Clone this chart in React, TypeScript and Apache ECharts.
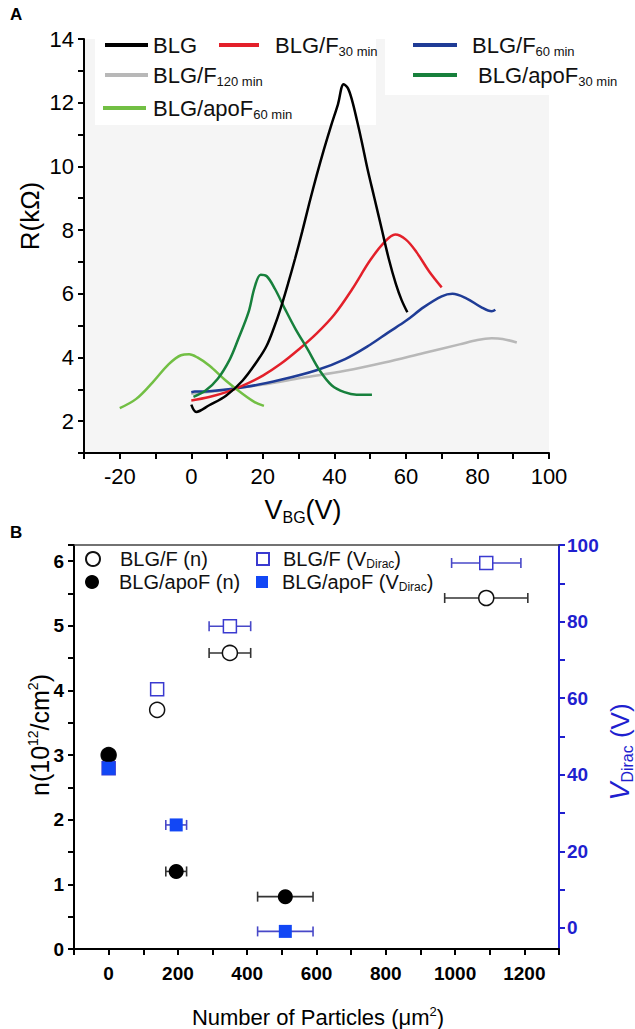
import React, { useEffect, useRef } from 'react';
import * as echarts from 'echarts';

// ---------- Panel A data: R (kOhm) vs V_BG (V) ----------
const xTicksA = [-20, 0, 20, 40, 60, 80, 100];
const blg = [[0, 2.52], [1.4, 2.29], [5, 2.5], [9.7, 2.8], [14.3, 3.27], [18.8, 3.95], [21, 4.35], [23, 4.9], [25, 5.55], [27, 6.3], [29, 7.1], [31, 7.95], [33, 8.85], [35, 9.7], [37, 10.5], [39, 11.25], [41, 11.95], [42.6, 12.58], [43.8, 12.45], [45, 12.05], [46.3, 11.45], [47.7, 10.75], [49.2, 9.95], [51.2, 9.0], [53.2, 8.05], [55.2, 7.1], [57.2, 6.3], [58.8, 5.8], [60.4, 5.42]];
const blgF30 = [[0, 2.65], [5, 2.76], [10, 2.92], [15, 3.15], [20, 3.43], [25, 3.8], [30, 4.25], [35, 4.75], [40, 5.35], [45, 6.15], [50, 7.05], [54, 7.62], [57, 7.86], [60, 7.7], [63, 7.3], [66.5, 6.7], [70, 6.2]];
const blgF60 = [[0, 2.91], [1, 2.93], [5, 2.94], [15, 3.07], [25, 3.3], [35, 3.6], [43, 3.95], [50, 4.4], [55, 4.78], [60, 5.15], [65, 5.58], [70, 5.92], [73, 6.0], [77, 5.85], [81, 5.58], [84, 5.45], [85, 5.5]];
const blgF120 = [[0, 2.86], [8.5, 2.96], [20, 3.15], [31, 3.36], [43, 3.58], [54, 3.84], [65, 4.14], [75, 4.41], [80, 4.55], [84, 4.6], [87, 4.58], [91, 4.47]];
const blgApoF30 = [[0.6, 2.76], [4, 2.96], [7.4, 3.33], [10.8, 3.95], [13.1, 4.57], [16, 5.42], [17.7, 6.2], [19.4, 6.6], [21.1, 6.55], [23.4, 6.15], [26.2, 5.52], [29.1, 4.9], [32.5, 4.26], [35.9, 3.59], [39.3, 3.12], [42.8, 2.91], [46.2, 2.83], [50.5, 2.83]];
const blgApoF60 = [[-20, 2.41], [-15.4, 2.7], [-10.8, 3.22], [-6.3, 3.79], [-2.9, 4.07], [-0.6, 4.1], [1.7, 4.0], [5.1, 3.74], [9.7, 3.27], [14.3, 2.86], [17.7, 2.6], [20.3, 2.48]];

// ---------- Panel B data: [particles, value, x-error] ----------
const blgFn = [[0, 3.0, 0], [140, 3.7, 8], [350, 4.58, 60], [1090, 5.43, 120]];
const blgApoFn = [[0, 3.0, 0], [195, 1.2, 30], [510, 0.81, 80]];
const blgFV = [[0, 41.7, 0], [140, 62.3, 15], [350, 78.8, 60], [1090, 95.3, 100]];
const blgApoFV = [[0, 41.7, 0], [195, 26.9, 30], [510, -0.9, 80]];
const rightLabels = [0, 20, 40, 60, 80, 100];
const rightTicks = [0, 10, 20, 30, 40, 50, 60, 70, 80, 90, 100];

const FONT = 'Liberation Sans, Arial, Helvetica, sans-serif';
const BLUE_AX = '#1f1fcf';

function errSeries(data: number[][], xi: number, yi: number, color: string) {
  return {
    type: 'custom',
    xAxisIndex: xi,
    yAxisIndex: yi,
    silent: true,
    z: 1,
    data: data.map((d) => [d[0], d[1], d[2]]),
    renderItem: (params: any, api: any) => {
      const x = api.value(0), y = api.value(1), e = api.value(2);
      if (!e) return { type: 'group', children: [] };
      const p1 = api.coord([x - e, y]);
      const p2 = api.coord([x + e, y]);
      const c = 5;
      const st = { stroke: color, lineWidth: 1.6 };
      return {
        type: 'group',
        children: [
          { type: 'line', shape: { x1: p1[0], y1: p1[1], x2: p2[0], y2: p2[1] }, style: st },
          { type: 'line', shape: { x1: p1[0], y1: p1[1] - c, x2: p1[0], y2: p1[1] + c }, style: st },
          { type: 'line', shape: { x1: p2[0], y1: p2[1] - c, x2: p2[0], y2: p2[1] + c }, style: st },
        ],
      };
    },
  };
}

const subRichA = {
  m: { fontSize: 22, lineHeight: 26, fontFamily: FONT, color: '#111' },
  s: { fontSize: 13, lineHeight: 8, verticalAlign: 'bottom', fontFamily: FONT, color: '#111' },
};
const fmtA = (n: string) => {
  const m = n.match(/^(.*?)(\d+ min)$/);
  return m ? `{m|${m[1]}}{s|${m[2]}}` : `{m|${n}}`;
};
function legA(name: string, left: number, cy: number, w: number, pad: number) {
  return {
    data: [name], left, top: cy - 13, padding: 0, selectedMode: false,
    icon: 'rect', itemWidth: w, itemHeight: 4,
    formatter: fmtA,
    textStyle: { rich: subRichA, padding: [0, 0, 0, pad] },
  };
}
const subRichB = {
  m: { fontSize: 20, lineHeight: 22, fontFamily: FONT, color: '#111' },
  s: { fontSize: 12, lineHeight: 6, verticalAlign: 'bottom', fontFamily: FONT, color: '#111' },
};
const fmtB = (n: string) => {
  const m = n.match(/^(.*)VDirac\)$/);
  return m ? `{m|${m[1]}V}{s|Dirac}{m|)}` : `{m|${n}}`;
};
function legB(name: string, left: number, cy: number, w: number, h: number, pad: number) {
  return {
    data: [name], left, top: cy - 11, padding: 0, selectedMode: false,
    itemWidth: w, itemHeight: h,
    formatter: fmtB,
    textStyle: { rich: subRichB, padding: [0, 0, 0, pad] },
  };
}

function lineSeries(name: string, data: number[][], color: string) {
  return {
    name, type: 'line', xAxisIndex: 0, yAxisIndex: 0, data, smooth: 0.35,
    showSymbol: false, symbol: 'none', z: 3,
    lineStyle: { color, width: 2.5 }, itemStyle: { color },
  };
}

const option: any = {
  animation: false,
  backgroundColor: '#fff',
  textStyle: { fontFamily: FONT },
  grid: [
    { left: 84, top: 39, width: 465, height: 414, show: true, backgroundColor: '#f5f5f5', borderWidth: 0 },
    { left: 74, top: 545, width: 485, height: 404 },
  ],
  xAxis: [
    {
      type: 'value', gridIndex: 0, min: -30, max: 100, interval: 10,
      axisLine: { onZero: false, lineStyle: { color: '#000', width: 2 } },
      axisTick: { length: 6, lineStyle: { color: '#000', width: 2 } },
      axisLabel: { fontSize: 22, color: '#000', margin: 12, formatter: (v: number) => (xTicksA.includes(v) ? String(v) : '') },
      splitLine: { show: false },
    },
    {
      type: 'value', gridIndex: 1, min: -100, max: 1300, interval: 100,
      axisLine: { onZero: false, lineStyle: { color: '#000', width: 2 } },
      axisTick: { length: 6, lineStyle: { color: '#000', width: 2 } },
      axisLabel: { fontSize: 19, fontWeight: 'bold', color: '#000', margin: 15, formatter: (v: number) => (v >= 0 && v <= 1200 && v % 200 === 0 ? String(v) : '') },
      splitLine: { show: false },
    },
    {
      type: 'value', gridIndex: 1, position: 'top', min: -100, max: 1300,
      axisLine: { onZero: false, lineStyle: { color: '#444', width: 1.5 } },
      axisTick: { show: false }, axisLabel: { show: false }, splitLine: { show: false },
    },
  ],
  yAxis: [
    {
      type: 'value', gridIndex: 0, min: 1, max: 14, interval: 1,
      axisLine: { show: true, onZero: false, lineStyle: { color: '#000', width: 2 } },
      axisTick: { show: true, length: 6, lineStyle: { color: '#000', width: 2 } },
      axisLabel: { fontSize: 22, color: '#000', margin: 10, formatter: (v: number) => (v % 2 === 0 ? String(v) : '') },
      splitLine: { show: false },
    },
    {
      type: 'value', gridIndex: 1, min: 0, max: 6.25, interval: 0.5,
      axisLine: { show: true, onZero: false, lineStyle: { color: '#000', width: 2 } },
      axisTick: { show: true, length: 6, lineStyle: { color: '#000', width: 2 } },
      axisLabel: { fontSize: 19, fontWeight: 'bold', color: '#000', margin: 10, formatter: (v: number) => (Number.isInteger(v) ? String(v) : '') },
      splitLine: { show: false },
    },
    {
      type: 'value', gridIndex: 1, position: 'right', min: -5.5, max: 100, interval: 5,
      axisLine: { show: true, onZero: false, lineStyle: { color: BLUE_AX, width: 2 } },
      axisTick: { show: true, length: 6, customValues: rightTicks, lineStyle: { color: BLUE_AX, width: 2 } },
      axisLabel: { fontSize: 19, fontWeight: 'bold', color: BLUE_AX, margin: 8, customValues: rightLabels, formatter: (v: number) => String(v) },
      splitLine: { show: false },
    },
  ],
  legend: [
    legA('BLG', 105, 47, 43, 0),
    legA('BLG/F30 min', 219, 47, 40, 11),
    legA('BLG/F60 min', 413, 47, 44, 10),
    legA('BLG/F120 min', 105, 77, 43, 0),
    legA('BLG/apoF30 min', 413, 77, 44, 16),
    legA('BLG/apoF60 min', 103, 110, 43, 2),
    legB('BLG/F (n)', 85, 560, 14, 14, 15),
    legB('BLG/apoF (n)', 85, 583, 14, 14, 15),
    legB('BLG/F (VDirac)', 256, 560, 12, 12, 9),
    legB('BLG/apoF (VDirac)', 256, 583, 12, 12, 9),
  ],
  series: [
    lineSeries('BLG/F120 min', blgF120, '#b8b8b8'),
    lineSeries('BLG/F60 min', blgF60, '#1f3c96'),
    lineSeries('BLG/F30 min', blgF30, '#e3202a'),
    lineSeries('BLG/apoF60 min', blgApoF60, '#72bf44'),
    lineSeries('BLG/apoF30 min', blgApoF30, '#17803c'),
    lineSeries('BLG', blg, '#000000'),
    errSeries(blgFn, 1, 1, '#333'),
    errSeries(blgApoFn, 1, 1, '#333'),
    errSeries(blgFV, 1, 2, '#4848c8'),
    errSeries(blgApoFV, 1, 2, '#4848c8'),
    {
      name: 'BLG/F (n)', type: 'scatter', xAxisIndex: 1, yAxisIndex: 1, z: 3,
      data: blgFn.map((d) => [d[0], d[1]]), symbol: 'circle', symbolSize: 15,
      itemStyle: { color: '#ffffff', borderColor: '#111', borderWidth: 1.5, opacity: 1 },
    },
    {
      name: 'BLG/F (VDirac)', type: 'scatter', xAxisIndex: 1, yAxisIndex: 2, z: 3,
      data: blgFV.map((d) => [d[0], d[1]]), symbol: 'rect', symbolSize: 13,
      itemStyle: { color: '#ffffff', borderColor: '#3a3ad0', borderWidth: 1.5, opacity: 1 },
    },
    {
      name: 'BLG/apoF (n)', type: 'scatter', xAxisIndex: 1, yAxisIndex: 1, z: 4,
      data: blgApoFn.map((d) => [d[0], d[1]]), symbol: 'circle', symbolSize: 15,
      itemStyle: { color: '#000000', opacity: 1 },
    },
    {
      name: 'BLG/apoF (VDirac)', type: 'scatter', xAxisIndex: 1, yAxisIndex: 2, z: 4,
      data: blgApoFV.map((d) => [d[0], d[1]]), symbol: 'rect', symbolSize: 13,
      itemStyle: { color: '#1247f5', opacity: 1 },
    },
  ],
  graphic: [
    { type: 'rect', z: 1, shape: { x: 95, y: 33, width: 281, height: 92 }, style: { fill: '#ffffff' } },
    { type: 'rect', z: 1, shape: { x: 385, y: 33, width: 230, height: 62 }, style: { fill: '#ffffff' } },
    { type: 'text', x: 10, y: 6, style: { text: 'A', font: `bold 17px ${FONT}`, fill: '#000' } },
    { type: 'text', x: 10, y: 524, style: { text: 'B', font: `bold 17px ${FONT}`, fill: '#000' } },
    {
      type: 'text', x: 30, y: 216, rotation: Math.PI / 2,
      style: { text: 'R(kΩ)', font: `26px ${FONT}`, fill: '#000', align: 'center', verticalAlign: 'middle' },
    },
    {
      type: 'text', x: 303, y: 510,
      style: {
        text: '{m|V}{s|BG}{m|(V)}', align: 'center', verticalAlign: 'middle',
        rich: {
          m: { fontSize: 27, lineHeight: 30, fontFamily: FONT, fill: '#000' },
          s: { fontSize: 16, lineHeight: 8, verticalAlign: 'bottom', fontFamily: FONT, fill: '#000' },
        },
      },
    },
    {
      type: 'text', x: 40, y: 735, rotation: Math.PI / 2,
      style: {
        text: '{m|n(10}{p|12}{m|/cm}{p|2}{m|)}', align: 'center', verticalAlign: 'middle',
        rich: {
          m: { fontSize: 25, lineHeight: 28, fontFamily: FONT, fill: '#000' },
          p: { fontSize: 14, lineHeight: 8, verticalAlign: 'top', fontFamily: FONT, fill: '#000' },
        },
      },
    },
    {
      type: 'text', x: 620, y: 752, rotation: Math.PI / 2,
      style: {
        text: '{m|V}{s|Dirac}{n| (V)}', align: 'center', verticalAlign: 'middle',
        rich: {
          m: { fontSize: 27, lineHeight: 30, fontStyle: 'italic', fontFamily: FONT, fill: BLUE_AX },
          s: { fontSize: 16, lineHeight: 8, verticalAlign: 'bottom', fontFamily: FONT, fill: BLUE_AX },
          n: { fontSize: 26, lineHeight: 30, fontFamily: FONT, fill: BLUE_AX },
        },
      },
    },
    {
      type: 'text', x: 318, y: 1017,
      style: {
        text: '{m|Number of Particles (μm}{p|2}{m|)}', align: 'center', verticalAlign: 'middle',
        rich: {
          m: { fontSize: 22, lineHeight: 24, fontFamily: FONT, fill: '#000' },
          p: { fontSize: 13, lineHeight: 8, verticalAlign: 'top', fontFamily: FONT, fill: '#000' },
        },
      },
    },
  ],
};

export default function App() {
  const ref = useRef<HTMLDivElement>(null);
  useEffect(() => {
    document.body.style.margin = '0';
    const chart = echarts.init(ref.current as HTMLDivElement, null, { renderer: 'svg' });
    chart.setOption(option);
    return () => chart.dispose();
  }, []);
  return <div ref={ref} style={{ width: 635, height: 1029 }} />;
}
